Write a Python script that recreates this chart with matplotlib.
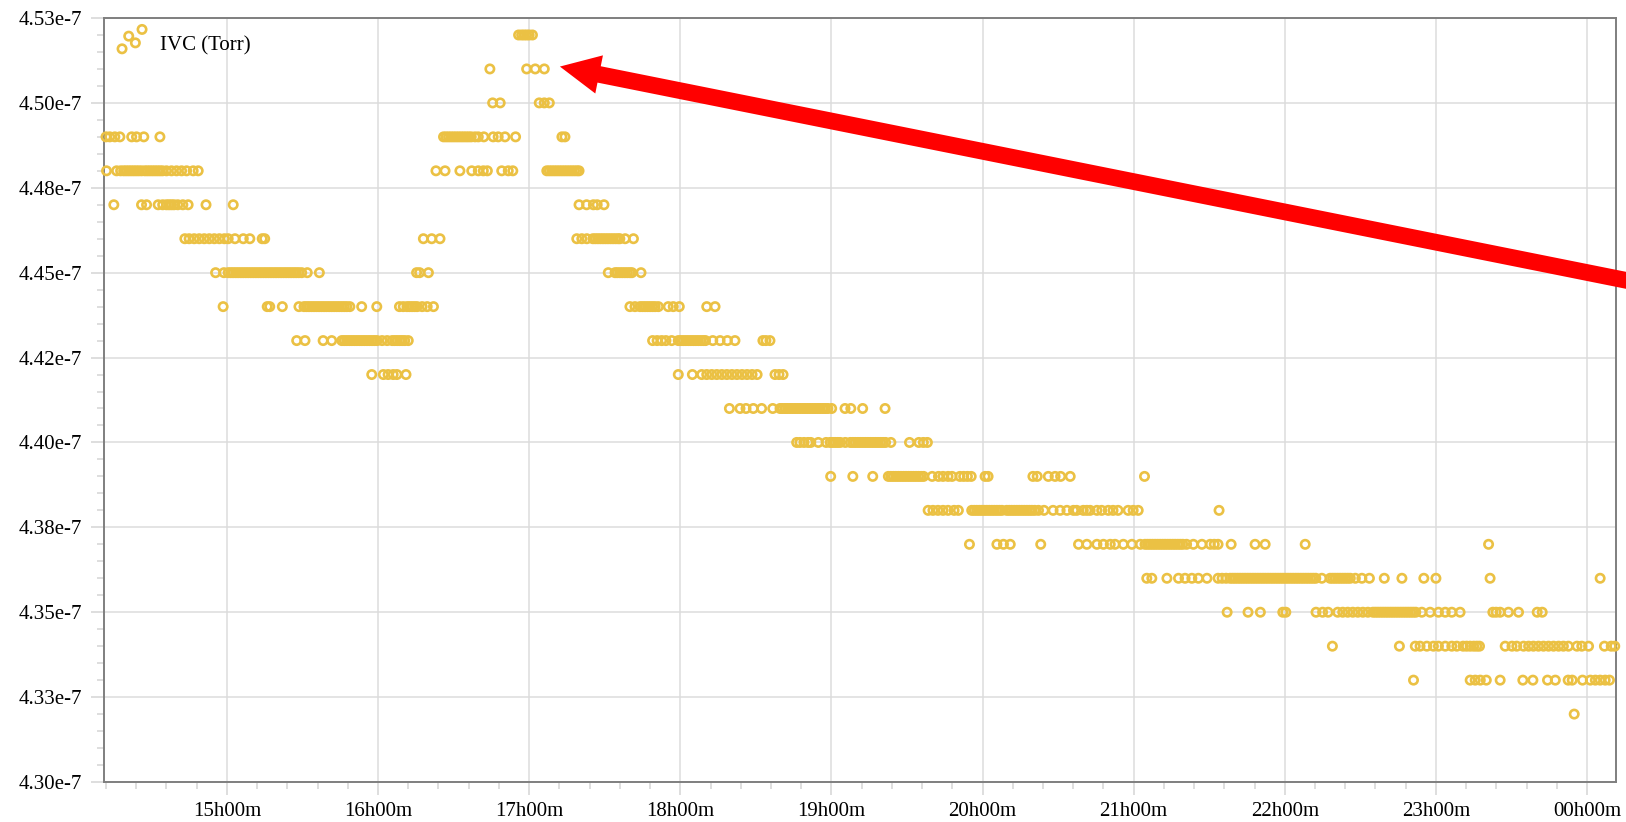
import matplotlib
matplotlib.use("Agg")
import matplotlib.pyplot as plt
from matplotlib.ticker import FixedLocator, MultipleLocator
import numpy as np

plt.rcParams['font.family'] = ['Liberation Serif', 'DejaVu Serif']

# time axis: minutes after 14h00m, one list of sample times per pressure level (x 1e-7 Torr)
t_452 = [175.8, 177, 178, 179, 180, 181.3]
t_451 = [164.4, 179.0, 182.4, 186.0]
t_450 = [165.5, 168.5, 184, 186, 188]
t_449 = [12.0, 13.5, 15.5, 17.5, 22.2, 24.1, 27.0, 33.4,
         146, 147, 148, 149, 150, 151, 152, 153, 154, 155, 156, 157, 158.5,
         159.8, 162, 165.7, 167.7, 170.4, 174.6, 193, 194.2]
t_448 = [12.2, 16.2, 17.8, 19, 20, 21, 22, 23, 24, 25, 26.1, 27.4, 28.4, 29.4, 30.4,
         31.4, 32.4, 33.4, 34.4, 36, 38, 40, 42, 44, 46.6, 48.6,
         143, 146.6, 152.5, 157.2, 159.8, 161.8, 163.4, 169.1, 171.7, 173.5,
         187, 188, 189, 190, 191, 192, 193, 194, 195, 196, 197, 198, 199, 199.8]
t_447 = [15.1, 26.1, 28.1, 32.7, 34.5, 36, 37, 38, 39, 40.5, 42.5, 44.6, 51.7, 62.5,
         199.8, 202.8, 205.5, 207, 209.7]
t_446 = [43.3, 45, 47, 49, 51, 53, 55, 57, 59, 60.5, 63.2, 66.5, 69.1, 74, 75,
         138, 141.3, 144.6,
         198.9, 200.9, 202.9, 205.3, 206.3, 207.3, 208.3, 209.3, 210.3, 211.3, 212.3,
         213.3, 214.3, 215.3, 216, 218.1, 221.4]
t_445 = [55.5, 58.8, 60.5, 61.5, 62.5, 63.5, 64.5, 65.5, 66.5, 67.5, 68.5, 69.5, 70.5,
         71.5, 72.5, 73.5, 74.5, 75.5, 76.5, 77.5, 78.5, 79.5, 80.5, 81.5, 82.5, 83.5,
         84.5, 85.5, 86.5, 87.5, 88.5, 89.7, 91.9, 96.7,
         135.3, 136.5, 140,
         211.4, 214.1, 215, 216, 217, 218, 219, 220, 220.8, 224.4]
t_444 = [58.5, 76, 77, 82, 88.6, 90.6, 91.6, 92.6, 93.6, 94.6, 95.6, 96.6, 97.6, 98.6,
         99.6, 100.6, 101.6, 102.6, 103.6, 104.6, 105.6, 106.6, 107.6, 108.8, 113.5, 119.5,
         128.5, 130, 131.5, 132.5, 133.5, 134.5, 135.5, 137.5, 139.5, 142,
         220, 222, 224, 225, 226, 227, 228, 229, 230, 231.3, 235.2, 237.2, 239.6,
         250.5, 253.8]
t_443 = [87.7, 91, 98.2, 101.6, 105.6, 106.6, 107.6, 108.6, 109.6, 110.6, 111.6, 112.6,
         113.6, 114.6, 115.6, 116.6, 117.6, 118.6, 119.6, 121.6, 123.6, 125.6, 126.6,
         127.6, 128.6, 129.6, 130.6, 132,
         229, 230.8, 232.6, 234.3, 236.6, 239.2, 240.2, 241.2, 242.2, 243.2, 244.2, 245.2,
         246.2, 247.2, 248.2, 249.2, 250, 252.9, 255.8, 258.7, 261.7, 272.8, 274, 275.6]
t_442 = [117.5, 122.1, 124, 126, 127.5, 131.1,
         239.2, 244.8, 248.5, 250.5, 252.5, 254.5, 256.5, 258.5, 260.5, 262.5, 264.5,
         266.5, 268.5, 270.5, 277.6, 279.2, 280.8]
t_441 = [259.5, 263.7, 266.1, 269, 272.3, 276.7, 279.6, 280.6, 281.6, 282.6, 283.6, 284.6,
         285.6, 286.6, 287.6, 288.6, 289.6, 290.6, 291.6, 292.6, 293.6, 294.6, 295.6,
         296.6, 297.6, 298.6, 300.1, 305.4, 307.7, 312.4, 321.3]
t_440 = [286.2, 287.5, 289.1, 290.7, 291.8, 294.8, 297.9, 299.5, 300.5, 301.5, 302.5,
         303.5, 305.5, 307.5, 308.5, 309.5, 310.5, 311.5, 312.5, 313.5, 314.5, 315.5,
         316.5, 317.5, 318.5, 319.5, 320.5, 321.5, 323.6, 331, 334.7, 336.5, 338.1]
t_439 = [299.7, 308.5, 316.4, 322.6, 323.6, 324.6, 325.6, 326.6, 327.6, 328.6, 329.6,
         330.6, 331.6, 332.6, 333.6, 334.6, 335.6, 336.6, 340, 342.5, 344.3, 346.3,
         347.9, 351, 352.5, 354, 355.5, 361, 362.2, 380, 381.7, 386.1, 388.8, 391,
         394.8, 424.3]
t_438 = [338.4, 340.3, 342.3, 344.3, 346.3, 348.7, 350.4, 355.7, 356.7, 357.7, 358.7,
         359.7, 360.7, 361.7, 362.7, 363.7, 364.7, 365.7, 366.7, 367.7, 369.6, 370.6,
         371.6, 372.6, 373.6, 374.6, 375.6, 376.6, 377.6, 378.6, 379.6, 380.7, 382.2,
         384.4, 388, 390.8, 393.5, 396.1, 397.4, 400, 401.4, 402.7, 405.4, 407.3, 409.9,
         411.8, 413.8, 417.8, 419.8, 421.8, 453.9]
t_437 = [354.8, 365.7, 368.3, 371, 383.1, 398.1, 401.4, 405.4, 408, 410.7, 412.6, 415.9,
         419.3, 422.6, 424.5, 425.5, 426.5, 427.5, 428.5, 429.5, 430.5, 431.5, 432.5,
         433.5, 434.5, 435.5, 436.5, 437.5, 438.5, 439.5, 441, 443.7, 447.1, 450.4, 452,
         453.5, 458.7, 468.2, 472.2, 488.1, 560.9]
t_436 = [425.2, 427.2, 433.2, 437.8, 440.4, 443.1, 445.7, 449.1, 453.5, 455.1, 456.7,
         458.3, 459.3, 460.3, 461.3, 462.3, 463.3, 464.3, 465.3, 466.3, 467.3, 468.3,
         469.3, 470.3, 471.3, 472.3, 473.3, 474.3, 475.3, 476.3, 477.3, 478.3, 479.3,
         480.3, 481.3, 482.3, 483.3, 484.3, 485.3, 486.3, 487.3, 488.3, 489.3, 490.3,
         491.3, 492.3, 494.7, 498, 499, 500, 501, 502, 503, 504, 505, 506, 508, 510.6,
         513.6, 519.5, 526.5, 535.2, 540, 561.5, 605.2]
t_435 = [457.1, 465.4, 470.3, 479.2, 480.4, 492.4, 495, 497.2, 501, 503, 505, 507, 509,
         511, 513, 515, 516, 517, 518, 519, 520, 521, 522, 523, 524, 525, 526, 527, 528,
         529, 530, 531, 532, 534.4, 537.7, 541, 543.7, 546.3, 549.6, 562.6, 563.9, 565.5,
         568.8, 572.8, 580.2, 582.2]
t_434 = [498.9, 525.5, 531.8, 533.7, 536.4, 539, 541, 543.7, 546.3, 548.3, 550.8, 552.2,
         553.6, 555, 556.2, 557.3, 567.5, 570.2, 572.1, 574.8, 576.8, 578.7, 580.7, 582.7,
         584.7, 586.7, 588.7, 590.6, 592.6, 596, 597.9, 600.6, 606.9, 609.6, 611]
t_433 = [531.1, 553.6, 555.6, 557.6, 560, 565.5, 574.5, 578.5, 584.3, 587.4, 592.5, 594.1,
         598.2, 601.3, 603.3, 605.2, 607.2, 608.9]
t_432 = [594.9]

levels = [4.52, 4.51, 4.50, 4.49, 4.48, 4.47, 4.46, 4.45, 4.44, 4.43, 4.42,
          4.41, 4.40, 4.39, 4.38, 4.37, 4.36, 4.35, 4.34, 4.33, 4.32]
series = [t_452, t_451, t_450, t_449, t_448, t_447, t_446, t_445, t_444, t_443, t_442,
          t_441, t_440, t_439, t_438, t_437, t_436, t_435, t_434, t_433, t_432]

ytick_vals = [4.30, 4.325, 4.35, 4.375, 4.40, 4.425, 4.45, 4.475, 4.50, 4.525]
ytick_labels = ['4.30e-7', '4.33e-7', '4.35e-7', '4.38e-7', '4.40e-7',
                '4.42e-7', '4.45e-7', '4.48e-7', '4.50e-7', '4.53e-7']
xtick_vals = [60, 120, 180, 240, 300, 360, 420, 480, 540, 600]
xtick_labels = ['15h00m', '16h00m', '17h00m', '18h00m', '19h00m',
                '20h00m', '21h00m', '22h00m', '23h00m', '00h00m']

x = np.concatenate([np.asarray(t, float) for t in series])
y = np.concatenate([np.full(len(t), lv) for t, lv in zip(series, levels)]) * 1e-7

fig = plt.figure(figsize=(16.26, 8.22), dpi=100)
ax = fig.add_axes([0.06396, 0.04866, 0.9299, 0.92944])

col = '#EBC144'
sc = ax.scatter(x, y, s=36, facecolors='none', edgecolors=col, linewidths=1.9,
                label='IVC (Torr)', clip_on=False, zorder=3)

ax.set_xlim(11.2, 611.5)
ax.set_ylim(4.30e-7, 4.525e-7)

ax.yaxis.set_major_locator(FixedLocator([v * 1e-7 for v in ytick_vals]))
ax.set_yticklabels(ytick_labels)
ax.yaxis.set_minor_locator(MultipleLocator(0.005e-7))
ax.xaxis.set_major_locator(FixedLocator(xtick_vals))
ax.set_xticklabels(xtick_labels)
ax.xaxis.set_minor_locator(MultipleLocator(12))

ax.grid(True, which='major', color='#dcdcdc', linewidth=1.1, zorder=0)
ax.set_axisbelow(True)
ax.tick_params(which='major', direction='out', length=9.5, width=1.1, color='#d4d4d4',
               labelsize=15, labelcolor='black')
ax.tick_params(axis='y', which='major', pad=6.5)
ax.tick_params(axis='x', which='major', pad=5)
ax.tick_params(which='minor', direction='out', length=5, width=1.1, color='#d4d4d4')
for sp in ax.spines.values():
    sp.set_color('#7f7f7f')
    sp.set_linewidth(1.4)

ax.legend(loc='upper left', bbox_to_anchor=(0.0078, 0.979), frameon=False,
          scatterpoints=4, scatteryoffsets=[0.09, 0.77, 0.41, 1.13],
          handlelength=1.56, handleheight=1.0, handletextpad=0.56,
          borderpad=0, borderaxespad=0, fontsize=15)

ax.annotate('', xy=(192.2, 4.5107e-7), xycoords='data',
            xytext=(1.005, 0.657), textcoords='figure fraction',
            arrowprops=dict(arrowstyle='simple,head_length=28.8,head_width=28,tail_width=12',
                            mutation_scale=1, color='red', lw=0, shrinkA=0, shrinkB=0),
            annotation_clip=False, zorder=5)

fig.savefig('out.png', dpi=100)
